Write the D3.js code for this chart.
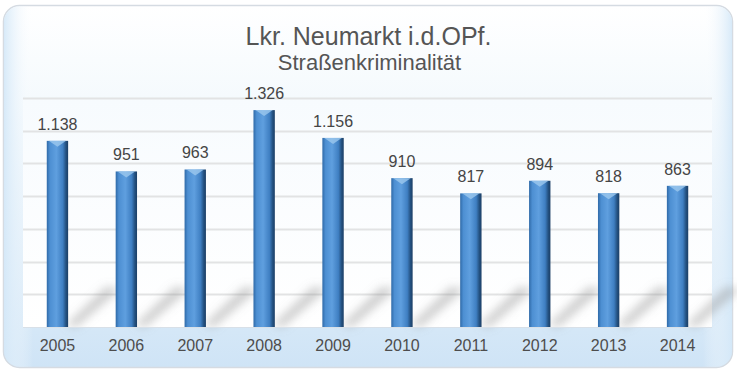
<!DOCTYPE html>
<html>
<head>
<meta charset="utf-8">
<script src="https://cdn.jsdelivr.net/npm/d3@7"></script>
<style>
  body { margin: 0; background: #fff; }
  svg { display: block; font-family: Arial, "Liberation Sans", sans-serif; }
</style>
</head>
<body>
<svg id="chart" width="737" height="376"></svg>
<script>
// data
var years = ["2005","2006","2007","2008","2009","2010","2011","2012","2013","2014"];
var cases = [1138, 951, 963, 1326, 1156, 910, 817, 894, 818, 863];
var gridTicks = [0, 200, 400, 600, 800, 1000, 1200, 1400];

var width = 737, height = 376,
    plot = {left: 23, right: 712, top: 98, bottom: 327};

var de = d3.formatLocale({decimal: ",", thousands: ".", grouping: [3], currency: ["", " €"]});
var fmt = de.format(",d");

var svg = d3.select("#chart");
var defs = svg.append("defs");

// frame gradient
var bg = defs.append("linearGradient").attr("id", "bg").attr("x1", 0).attr("y1", 0).attr("x2", 0).attr("y2", 1);
bg.append("stop").attr("offset", "0%").attr("stop-color", "#ffffff");
bg.append("stop").attr("offset", "30%").attr("stop-color", "#f3f9fd");
bg.append("stop").attr("offset", "100%").attr("stop-color", "#cfe4f6");

var side = defs.append("linearGradient").attr("id", "side").attr("x1", 0).attr("y1", 0).attr("x2", 1).attr("y2", 0);
side.append("stop").attr("offset", "0%").attr("stop-color", "#d4e8f8").attr("stop-opacity", 0.9);
side.append("stop").attr("offset", "4%").attr("stop-color", "#ffffff").attr("stop-opacity", 0);
side.append("stop").attr("offset", "96%").attr("stop-color", "#ffffff").attr("stop-opacity", 0);
side.append("stop").attr("offset", "100%").attr("stop-color", "#d4e8f8").attr("stop-opacity", 0.9);

var plotBg = defs.append("linearGradient").attr("id", "plotBg").attr("x1", 0).attr("y1", 0).attr("x2", 0).attr("y2", 1);
plotBg.append("stop").attr("offset", "0%").attr("stop-color", "#f7fbfe");
plotBg.append("stop").attr("offset", "100%").attr("stop-color", "#ffffff");

var barGrad = defs.append("linearGradient").attr("id", "bar").attr("x1", 0).attr("y1", 0).attr("x2", 1).attr("y2", 0);
barGrad.append("stop").attr("offset", "0%").attr("stop-color", "#2f6aa8");
barGrad.append("stop").attr("offset", "15%").attr("stop-color", "#4d8fd2");
barGrad.append("stop").attr("offset", "45%").attr("stop-color", "#5f9fdf");
barGrad.append("stop").attr("offset", "75%").attr("stop-color", "#3f7fc2");
barGrad.append("stop").attr("offset", "90%").attr("stop-color", "#23507f");
barGrad.append("stop").attr("offset", "100%").attr("stop-color", "#1c3f66");

var blur = defs.append("filter").attr("id", "blur").attr("x", "-50%").attr("y", "-50%").attr("width", "200%").attr("height", "200%");
blur.append("feGaussianBlur").attr("stdDeviation", 5);

// frame
svg.append("rect").attr("x", 3.5).attr("y", 5.5).attr("width", 729).attr("height", 362)
  .attr("rx", 16).attr("fill", "url(#bg)").attr("stroke", "#d5dbe2").attr("stroke-width", 1.5);
svg.append("rect").attr("x", 4).attr("y", 6).attr("width", 728).attr("height", 361)
  .attr("rx", 16).attr("fill", "url(#side)");

// scales
var x = d3.scaleBand().domain(years).range([plot.left, plot.right]).paddingInner(0.69).paddingOuter(0.345);
var y = d3.scaleLinear().domain([0, 1400]).range([plot.bottom, plot.top]);

svg.append("rect").attr("x", plot.left).attr("y", plot.top).attr("width", plot.right - plot.left)
  .attr("height", plot.bottom - plot.top).attr("fill", "url(#plotBg)");

// gridlines
svg.append("g").selectAll("line").data(gridTicks.slice(1)).enter().append("line")
  .attr("x1", plot.left).attr("x2", plot.right)
  .attr("y1", function(d) { return Math.round(y(d)) + 0.5; })
  .attr("y2", function(d) { return Math.round(y(d)) + 0.5; })
  .attr("stroke", "#e2e3e4").attr("stroke-width", 2);

// shadows
var bw = x.bandwidth();
svg.append("g").attr("filter", "url(#blur)").selectAll("path").data(years).enter().append("path")
  .attr("d", function(d) {
    var x0 = x(d) + bw, yb = plot.bottom;
    return "M" + (x0 - 2) + "," + (yb - 2) + "L" + (x0 + 38) + "," + (yb - 40) +
      "L" + (x0 + 52) + "," + (yb - 38) + "L" + (x0 + 8) + "," + yb + "Z";
  })
  .attr("fill", "#8f8f8f").attr("opacity", 0.45);

// bars
var bars = svg.append("g").selectAll("g").data(cases).enter().append("g");
bars.append("rect")
  .attr("x", function(d, i) { return x(years[i]); })
  .attr("y", function(d) { return y(d); })
  .attr("width", bw)
  .attr("height", function(d) { return plot.bottom - y(d); })
  .attr("fill", "url(#bar)");
bars.append("path")
  .attr("d", function(d, i) {
    var x0 = x(years[i]), t = y(d);
    return "M" + (x0 + 2) + "," + t + "L" + (x0 + bw - 2) + "," + t +
      "L" + (x0 + bw / 2) + "," + (t + 6) + "Z";
  })
  .attr("fill", "#9cc8ee").attr("opacity", 0.8);

// value labels
svg.append("g").selectAll("text").data(cases).enter().append("text")
  .attr("x", function(d, i) { return x(years[i]) + bw / 2; })
  .attr("y", function(d) { return y(d) - 11; })
  .attr("text-anchor", "middle")
  .attr("font-size", 16).attr("fill", "#454545")
  .text(function(d) { return fmt(d); });

// baseline
svg.append("line").attr("x1", plot.left).attr("x2", plot.right)
  .attr("y1", plot.bottom + 0.5).attr("y2", plot.bottom + 0.5)
  .attr("stroke", "#d8e0e8").attr("stroke-width", 1);

// x axis
var xAxis = svg.append("g").attr("transform", "translate(0," + plot.bottom + ")")
  .call(d3.axisBottom(x).tickSize(0).tickPadding(13));
xAxis.select(".domain").remove();
xAxis.selectAll("text").attr("font-size", 16).attr("fill", "#4d4d4d")
  .attr("font-family", "Arial, 'Liberation Sans', sans-serif");

// titles
svg.append("text").attr("x", width / 2).attr("y", 45).attr("text-anchor", "middle")
  .attr("font-size", 25).attr("fill", "#555555").text("Lkr. Neumarkt i.d.OPf.");
svg.append("text").attr("x", width / 2 + 1).attr("y", 70).attr("text-anchor", "middle")
  .attr("font-size", 22).attr("fill", "#555555").text("Straßenkriminalität");
</script>
</body>
</html>
